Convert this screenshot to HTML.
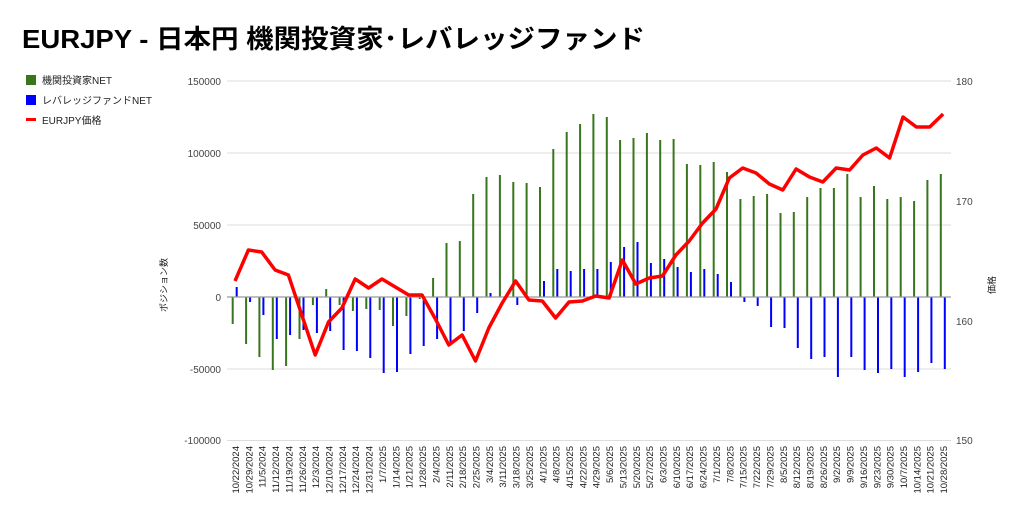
<!DOCTYPE html>
<html><head><meta charset="utf-8"><style>
html,body{margin:0;padding:0;background:#fff;}
svg{display:block;font-family:"Liberation Sans","Noto Sans CJK JP",sans-serif;}
</style></head><body>
<svg width="1024" height="521" viewBox="0 0 1024 521" xmlns="http://www.w3.org/2000/svg">
<rect width="1024" height="521" fill="#fff"/>
<text x="22" y="48" font-size="26" font-weight="bold" fill="#000" textLength="623" lengthAdjust="spacingAndGlyphs">EURJPY - 日本円 機関投資家･レバレッジファンド</text>
<rect x="26" y="75" width="10" height="10" fill="#38761d"/>
<text x="42" y="84" font-size="10" fill="#222">機関投資家NET</text>
<rect x="26" y="95" width="10" height="10" fill="#0000ff"/>
<text x="42" y="104" font-size="10" fill="#222">レバレッジファンドNET</text>
<rect x="26" y="118" width="10" height="3" fill="#ff0000"/>
<text x="42" y="124" font-size="10" fill="#222">EURJPY価格</text>
<g stroke="#dcdcdc" stroke-width="1">
<line x1="227" x2="951" y1="81" y2="81"/><line x1="227" x2="951" y1="153" y2="153"/><line x1="227" x2="951" y1="225" y2="225"/><line x1="227" x2="951" y1="369" y2="369"/><line x1="227" x2="951" y1="440.5" y2="440.5"/>
</g>
<g font-size="10" fill="#444" text-anchor="end">
<text x="221" y="85">150000</text><text x="221" y="157">100000</text><text x="221" y="229">50000</text><text x="221" y="301">0</text><text x="221" y="373">-50000</text><text x="221" y="444">-100000</text>
</g>
<g font-size="10" fill="#444">
<text x="956" y="85">180</text><text x="956" y="205">170</text><text x="956" y="325">160</text><text x="956" y="444">150</text>
</g>
<text transform="translate(167,285) rotate(-90)" font-size="9" fill="#222" text-anchor="middle">ポジション数</text>
<text transform="translate(995,285) rotate(-90)" font-size="9" fill="#222" text-anchor="middle">価格</text>
<g id="bars">
<g transform="translate(235)"><rect x="-3.3" y="297" width="2" height="27" fill="#38761d"/><rect x="0.7" y="287" width="2" height="10" fill="#0000ff"/></g>
<g transform="translate(248.4)"><rect x="-3.3" y="297" width="2" height="47" fill="#38761d"/><rect x="0.7" y="297" width="2" height="5" fill="#0000ff"/></g>
<g transform="translate(261.7)"><rect x="-3.3" y="297" width="2" height="60" fill="#38761d"/><rect x="0.7" y="297" width="2" height="18" fill="#0000ff"/></g>
<g transform="translate(275.1)"><rect x="-3.3" y="297" width="2" height="73" fill="#38761d"/><rect x="0.7" y="297" width="2" height="42" fill="#0000ff"/></g>
<g transform="translate(288.4)"><rect x="-3.3" y="297" width="2" height="69" fill="#38761d"/><rect x="0.7" y="297" width="2" height="38" fill="#0000ff"/></g>
<g transform="translate(301.8)"><rect x="-3.3" y="297" width="2" height="42" fill="#38761d"/><rect x="0.7" y="297" width="2" height="33" fill="#0000ff"/></g>
<g transform="translate(315.2)"><rect x="-3.3" y="297" width="2" height="8" fill="#38761d"/><rect x="0.7" y="297" width="2" height="36" fill="#0000ff"/></g>
<g transform="translate(328.5)"><rect x="-3.3" y="289" width="2" height="8" fill="#38761d"/><rect x="0.7" y="297" width="2" height="34" fill="#0000ff"/></g>
<g transform="translate(341.9)"><rect x="-3.3" y="297" width="2" height="8" fill="#38761d"/><rect x="0.7" y="297" width="2" height="53" fill="#0000ff"/></g>
<g transform="translate(355.2)"><rect x="-3.3" y="297" width="2" height="14" fill="#38761d"/><rect x="0.7" y="297" width="2" height="54" fill="#0000ff"/></g>
<g transform="translate(368.6)"><rect x="-3.3" y="297" width="2" height="12" fill="#38761d"/><rect x="0.7" y="297" width="2" height="61" fill="#0000ff"/></g>
<g transform="translate(382.0)"><rect x="-3.3" y="297" width="2" height="13" fill="#38761d"/><rect x="0.7" y="297" width="2" height="76" fill="#0000ff"/></g>
<g transform="translate(395.3)"><rect x="-3.3" y="297" width="2" height="29" fill="#38761d"/><rect x="0.7" y="297" width="2" height="75" fill="#0000ff"/></g>
<g transform="translate(408.7)"><rect x="-3.3" y="297" width="2" height="19" fill="#38761d"/><rect x="0.7" y="297" width="2" height="57" fill="#0000ff"/></g>
<g transform="translate(422.0)"><rect x="-3.3" y="297" width="2" height="2" fill="#38761d"/><rect x="0.7" y="297" width="2" height="49" fill="#0000ff"/></g>
<g transform="translate(435.4)"><rect x="-3.3" y="278" width="2" height="19" fill="#38761d"/><rect x="0.7" y="297" width="2" height="42" fill="#0000ff"/></g>
<g transform="translate(448.8)"><rect x="-3.3" y="243" width="2" height="54" fill="#38761d"/><rect x="0.7" y="297" width="2" height="45" fill="#0000ff"/></g>
<g transform="translate(462.1)"><rect x="-3.3" y="241" width="2" height="56" fill="#38761d"/><rect x="0.7" y="297" width="2" height="34" fill="#0000ff"/></g>
<g transform="translate(475.5)"><rect x="-3.3" y="194" width="2" height="103" fill="#38761d"/><rect x="0.7" y="297" width="2" height="16" fill="#0000ff"/></g>
<g transform="translate(488.8)"><rect x="-3.3" y="177" width="2" height="120" fill="#38761d"/><rect x="0.7" y="293" width="2" height="4" fill="#0000ff"/></g>
<g transform="translate(502.2)"><rect x="-3.3" y="175" width="2" height="122" fill="#38761d"/></g>
<g transform="translate(515.6)"><rect x="-3.3" y="182" width="2" height="115" fill="#38761d"/><rect x="0.7" y="297" width="2" height="8" fill="#0000ff"/></g>
<g transform="translate(528.9)"><rect x="-3.3" y="183" width="2" height="114" fill="#38761d"/></g>
<g transform="translate(542.3)"><rect x="-3.3" y="187" width="2" height="110" fill="#38761d"/><rect x="0.7" y="281" width="2" height="16" fill="#0000ff"/></g>
<g transform="translate(555.6)"><rect x="-3.3" y="149" width="2" height="148" fill="#38761d"/><rect x="0.7" y="269" width="2" height="28" fill="#0000ff"/></g>
<g transform="translate(569.0)"><rect x="-3.3" y="132" width="2" height="165" fill="#38761d"/><rect x="0.7" y="271" width="2" height="26" fill="#0000ff"/></g>
<g transform="translate(582.4)"><rect x="-3.3" y="124" width="2" height="173" fill="#38761d"/><rect x="0.7" y="269" width="2" height="28" fill="#0000ff"/></g>
<g transform="translate(595.7)"><rect x="-3.3" y="114" width="2" height="183" fill="#38761d"/><rect x="0.7" y="269" width="2" height="28" fill="#0000ff"/></g>
<g transform="translate(609.1)"><rect x="-3.3" y="117" width="2" height="180" fill="#38761d"/><rect x="0.7" y="262" width="2" height="35" fill="#0000ff"/></g>
<g transform="translate(622.4)"><rect x="-3.3" y="140" width="2" height="157" fill="#38761d"/><rect x="0.7" y="247" width="2" height="50" fill="#0000ff"/></g>
<g transform="translate(635.8)"><rect x="-3.3" y="138" width="2" height="159" fill="#38761d"/><rect x="0.7" y="242" width="2" height="55" fill="#0000ff"/></g>
<g transform="translate(649.2)"><rect x="-3.3" y="133" width="2" height="164" fill="#38761d"/><rect x="0.7" y="263" width="2" height="34" fill="#0000ff"/></g>
<g transform="translate(662.5)"><rect x="-3.3" y="140" width="2" height="157" fill="#38761d"/><rect x="0.7" y="259" width="2" height="38" fill="#0000ff"/></g>
<g transform="translate(675.9)"><rect x="-3.3" y="139" width="2" height="158" fill="#38761d"/><rect x="0.7" y="267" width="2" height="30" fill="#0000ff"/></g>
<g transform="translate(689.2)"><rect x="-3.3" y="164" width="2" height="133" fill="#38761d"/><rect x="0.7" y="272" width="2" height="25" fill="#0000ff"/></g>
<g transform="translate(702.6)"><rect x="-3.3" y="165" width="2" height="132" fill="#38761d"/><rect x="0.7" y="269" width="2" height="28" fill="#0000ff"/></g>
<g transform="translate(716.0)"><rect x="-3.3" y="162" width="2" height="135" fill="#38761d"/><rect x="0.7" y="274" width="2" height="23" fill="#0000ff"/></g>
<g transform="translate(729.3)"><rect x="-3.3" y="172" width="2" height="125" fill="#38761d"/><rect x="0.7" y="282" width="2" height="15" fill="#0000ff"/></g>
<g transform="translate(742.7)"><rect x="-3.3" y="199" width="2" height="98" fill="#38761d"/><rect x="0.7" y="297" width="2" height="5" fill="#0000ff"/></g>
<g transform="translate(756.0)"><rect x="-3.3" y="196" width="2" height="101" fill="#38761d"/><rect x="0.7" y="297" width="2" height="9" fill="#0000ff"/></g>
<g transform="translate(769.4)"><rect x="-3.3" y="194" width="2" height="103" fill="#38761d"/><rect x="0.7" y="297" width="2" height="30" fill="#0000ff"/></g>
<g transform="translate(782.8)"><rect x="-3.3" y="213" width="2" height="84" fill="#38761d"/><rect x="0.7" y="297" width="2" height="31" fill="#0000ff"/></g>
<g transform="translate(796.1)"><rect x="-3.3" y="212" width="2" height="85" fill="#38761d"/><rect x="0.7" y="297" width="2" height="51" fill="#0000ff"/></g>
<g transform="translate(809.5)"><rect x="-3.3" y="197" width="2" height="100" fill="#38761d"/><rect x="0.7" y="297" width="2" height="62" fill="#0000ff"/></g>
<g transform="translate(822.8)"><rect x="-3.3" y="188" width="2" height="109" fill="#38761d"/><rect x="0.7" y="297" width="2" height="60" fill="#0000ff"/></g>
<g transform="translate(836.2)"><rect x="-3.3" y="188" width="2" height="109" fill="#38761d"/><rect x="0.7" y="297" width="2" height="80" fill="#0000ff"/></g>
<g transform="translate(849.6)"><rect x="-3.3" y="174" width="2" height="123" fill="#38761d"/><rect x="0.7" y="297" width="2" height="60" fill="#0000ff"/></g>
<g transform="translate(862.9)"><rect x="-3.3" y="197" width="2" height="100" fill="#38761d"/><rect x="0.7" y="297" width="2" height="73" fill="#0000ff"/></g>
<g transform="translate(876.3)"><rect x="-3.3" y="186" width="2" height="111" fill="#38761d"/><rect x="0.7" y="297" width="2" height="76" fill="#0000ff"/></g>
<g transform="translate(889.6)"><rect x="-3.3" y="199" width="2" height="98" fill="#38761d"/><rect x="0.7" y="297" width="2" height="72" fill="#0000ff"/></g>
<g transform="translate(903.0)"><rect x="-3.3" y="197" width="2" height="100" fill="#38761d"/><rect x="0.7" y="297" width="2" height="80" fill="#0000ff"/></g>
<g transform="translate(916.4)"><rect x="-3.3" y="201" width="2" height="96" fill="#38761d"/><rect x="0.7" y="297" width="2" height="75" fill="#0000ff"/></g>
<g transform="translate(929.7)"><rect x="-3.3" y="180" width="2" height="117" fill="#38761d"/><rect x="0.7" y="297" width="2" height="66" fill="#0000ff"/></g>
<g transform="translate(943.1)"><rect x="-3.3" y="174" width="2" height="123" fill="#38761d"/><rect x="0.7" y="297" width="2" height="72" fill="#0000ff"/></g>
</g>
<line x1="227" x2="951" y1="297" y2="297" stroke="#999" stroke-width="1.2"/>
<polyline fill="none" stroke="#ff0000" stroke-width="3.5" stroke-linejoin="round" points="235,281 248.4,250 261.7,252 275.1,270 288.4,275 301.8,315 315.2,355 328.5,322 341.9,308 355.2,279 368.6,288 382,279 395.3,287 408.7,295 422,295 435.4,319 448.8,345 462.1,335 475.5,361 488.8,328 502.2,303 515.6,281 528.9,300 542.3,301 555.6,318 569,302 582.4,301 595.7,296 609.1,298 622.4,260 635.8,284 649.2,278 662.5,276 675.9,255 689.2,241 702.6,223 716,209 729.3,178 742.7,168 756,173 769.4,184 782.8,190 796.1,169 809.5,177 822.8,182 836.2,168 849.6,170 862.9,155 876.3,148 889.6,158 903,117 916.4,127 929.7,127 943.1,114"/>
<g font-size="9.5" fill="#222" text-anchor="end">
<text transform="translate(239,446) rotate(-90)">10/22/2024</text>
<text transform="translate(252.4,446) rotate(-90)">10/29/2024</text>
<text transform="translate(265.7,446) rotate(-90)">11/5/2024</text>
<text transform="translate(279.1,446) rotate(-90)">11/12/2024</text>
<text transform="translate(292.4,446) rotate(-90)">11/19/2024</text>
<text transform="translate(305.8,446) rotate(-90)">11/26/2024</text>
<text transform="translate(319.2,446) rotate(-90)">12/3/2024</text>
<text transform="translate(332.5,446) rotate(-90)">12/10/2024</text>
<text transform="translate(345.9,446) rotate(-90)">12/17/2024</text>
<text transform="translate(359.2,446) rotate(-90)">12/24/2024</text>
<text transform="translate(372.6,446) rotate(-90)">12/31/2024</text>
<text transform="translate(386,446) rotate(-90)">1/7/2025</text>
<text transform="translate(399.3,446) rotate(-90)">1/14/2025</text>
<text transform="translate(412.7,446) rotate(-90)">1/21/2025</text>
<text transform="translate(426,446) rotate(-90)">1/28/2025</text>
<text transform="translate(439.4,446) rotate(-90)">2/4/2025</text>
<text transform="translate(452.8,446) rotate(-90)">2/11/2025</text>
<text transform="translate(466.1,446) rotate(-90)">2/18/2025</text>
<text transform="translate(479.5,446) rotate(-90)">2/25/2025</text>
<text transform="translate(492.8,446) rotate(-90)">3/4/2025</text>
<text transform="translate(506.2,446) rotate(-90)">3/11/2025</text>
<text transform="translate(519.6,446) rotate(-90)">3/18/2025</text>
<text transform="translate(532.9,446) rotate(-90)">3/25/2025</text>
<text transform="translate(546.3,446) rotate(-90)">4/1/2025</text>
<text transform="translate(559.6,446) rotate(-90)">4/8/2025</text>
<text transform="translate(573,446) rotate(-90)">4/15/2025</text>
<text transform="translate(586.4,446) rotate(-90)">4/22/2025</text>
<text transform="translate(599.7,446) rotate(-90)">4/29/2025</text>
<text transform="translate(613.1,446) rotate(-90)">5/6/2025</text>
<text transform="translate(626.4,446) rotate(-90)">5/13/2025</text>
<text transform="translate(639.8,446) rotate(-90)">5/20/2025</text>
<text transform="translate(653.2,446) rotate(-90)">5/27/2025</text>
<text transform="translate(666.5,446) rotate(-90)">6/3/2025</text>
<text transform="translate(679.9,446) rotate(-90)">6/10/2025</text>
<text transform="translate(693.2,446) rotate(-90)">6/17/2025</text>
<text transform="translate(706.6,446) rotate(-90)">6/24/2025</text>
<text transform="translate(720,446) rotate(-90)">7/1/2025</text>
<text transform="translate(733.3,446) rotate(-90)">7/8/2025</text>
<text transform="translate(746.7,446) rotate(-90)">7/15/2025</text>
<text transform="translate(760,446) rotate(-90)">7/22/2025</text>
<text transform="translate(773.4,446) rotate(-90)">7/29/2025</text>
<text transform="translate(786.8,446) rotate(-90)">8/5/2025</text>
<text transform="translate(800.1,446) rotate(-90)">8/12/2025</text>
<text transform="translate(813.5,446) rotate(-90)">8/19/2025</text>
<text transform="translate(826.8,446) rotate(-90)">8/26/2025</text>
<text transform="translate(840.2,446) rotate(-90)">9/2/2025</text>
<text transform="translate(853.6,446) rotate(-90)">9/9/2025</text>
<text transform="translate(866.9,446) rotate(-90)">9/16/2025</text>
<text transform="translate(880.3,446) rotate(-90)">9/23/2025</text>
<text transform="translate(893.6,446) rotate(-90)">9/30/2025</text>
<text transform="translate(907,446) rotate(-90)">10/7/2025</text>
<text transform="translate(920.4,446) rotate(-90)">10/14/2025</text>
<text transform="translate(933.7,446) rotate(-90)">10/21/2025</text>
<text transform="translate(947.1,446) rotate(-90)">10/28/2025</text>
</g>
</svg>
</body></html>
